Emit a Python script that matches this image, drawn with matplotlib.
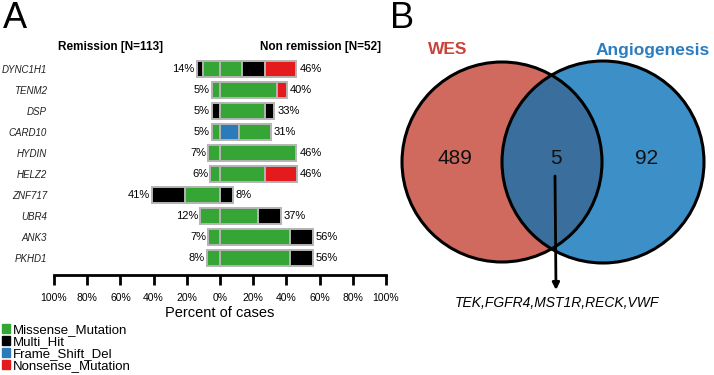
import numpy as np
import matplotlib
matplotlib.use('Agg')
import matplotlib.pyplot as plt
from matplotlib.patches import Circle, Patch

plt.rcParams['font.family'] = ['Liberation Sans', 'DejaVu Sans']

# panel A data (percent of cases)
genes = ['DYNC1H1', 'TENM2', 'DSP', 'CARD10', 'HYDIN', 'HELZ2', 'ZNF717', 'UBR4', 'ANK3', 'PKHD1']
# remission side (N=113)
rem_missense = [10, 5, 0, 5, 7, 6, 21, 12, 7, 8]
rem_multi = [4, 0, 5, 0, 0, 0, 20, 0, 0, 0]
# non remission side (N=52)
non_frameshift = [0, 0, 0, 11.5, 0, 0, 0, 0, 0, 0]
non_missense = [13.5, 34.6, 26.9, 19.2, 46, 26.9, 0, 23.1, 42.3, 42.3]
non_multi = [13.5, 0, 5.8, 0, 0, 0, 7.7, 13.5, 13.5, 13.5]
non_nonsense = [19, 5.8, 0, 0, 0, 19.2, 0, 0, 0, 0]

ticks = [-100, -80, -60, -40, -20, 0, 20, 40, 60, 80, 100]

# panel B data
venn_sets = ['WES', 'Angiogenesis']
venn_counts = [489, 5, 92]
shared_genes = ['TEK', 'FGFR4', 'MST1R', 'RECK', 'VWF']

c_miss = '#35a535'
c_multi = '#000000'
c_fs = '#2b7bba'
c_non = '#e41a1c'
edge = '#b4b4b4'

fig = plt.figure(figsize=(7.14, 3.75), dpi=100)

ax = fig.add_axes([54/714, 1-275/375, (386-54)/714, (275-57)/375])
y = np.arange(len(genes))
h = 0.72

# left side, stacked outwards from 0
left = np.zeros(len(genes))
for vals, col in [(rem_missense, c_miss), (rem_multi, c_multi)]:
    v = np.array(vals, dtype=float)
    ax.barh(y, -v, left=-left, height=h, color=col, edgecolor=edge, linewidth=1.4)
    left += v

right = np.zeros(len(genes))
for vals, col in [(non_frameshift, c_fs), (non_missense, c_miss), (non_multi, c_multi), (non_nonsense, c_non)]:
    v = np.array(vals, dtype=float)
    m = v > 0
    ax.barh(y[m], v[m], left=right[m], height=h, color=col, edgecolor=edge, linewidth=1.4)
    right += v

for i in range(len(genes)):
    ax.text(-left[i] - 1.2, y[i], '%d%%' % round(left[i]), ha='right', va='center', fontsize=8)
    ax.text(right[i] + 1.8, y[i], '%d%%' % round(right[i]), ha='left', va='center', fontsize=8)

ax.set_xlim(-100, 100)
ax.set_ylim(9.81, -0.57)
ax.set_xticks(ticks)
ax.set_xticklabels(['%d%%' % abs(t) for t in ticks])
ax.set_yticks(y)
ax.set_yticklabels(genes, fontstyle='italic', fontsize=7, color='#222222')
ax.tick_params(axis='y', length=0, pad=5)
ax.tick_params(axis='x', length=7, width=2, labelsize=7.5, pad=6)
for s in ['top', 'right', 'left']:
    ax.spines[s].set_visible(False)
ax.spines['bottom'].set_linewidth(2)
ax.set_xlabel('Percent of cases', fontsize=10.5, labelpad=2)
ax.patch.set_visible(False)

fig.text(110/714, 1-47/375, 'Remission [N=113]', ha='center', va='center', fontsize=8.5, fontweight='bold')
fig.text(320/714, 1-47/375, 'Non remission [N=52]', ha='center', va='center', fontsize=8.5, fontweight='bold')

handles = [Patch(color=c_miss), Patch(color=c_multi), Patch(color=c_fs), Patch(color=c_non)]
fig.legend(handles, ['Missense_Mutation', 'Multi_Hit', 'Frame_Shift_Del', 'Nonsense_Mutation'],
           loc='upper left', bbox_to_anchor=(0.003, 1-324/375), frameon=False, fontsize=9.5,
           handlelength=0.6, handleheight=0.6, handletextpad=0.2, labelspacing=0.0,
           borderpad=0, borderaxespad=0)

fig.text(3/714, 1-18/375, 'A', fontsize=26, va='center', ha='left')
fig.text(390/714, 1-18/375, 'B', fontsize=26, va='center', ha='left')

# panel B: venn
bx = fig.add_axes([390/714, 0, 324/714, 1])
bx.set_xlim(390, 714)
bx.set_ylim(375, 0)
bx.axis('off')

c1 = Circle((502, 162), 100, facecolor='#d06a5e', edgecolor='none')
c2 = Circle((603, 162), 101, facecolor='#3d8fc8', edgecolor='none')
bx.add_patch(c1)
bx.add_patch(c2)
lens = Circle((502, 162), 100, facecolor='#3a6f9d', edgecolor='none')
bx.add_patch(lens)
lens.set_clip_path(c2)
bx.add_patch(Circle((502, 162), 100, fill=False, edgecolor='black', linewidth=2.2))
bx.add_patch(Circle((603, 162), 101, fill=False, edgecolor='black', linewidth=2.2))

bx.text(448, 50, venn_sets[0], color='#c9433b', fontsize=12.5, fontweight='bold', ha='center', va='center')
bx.text(653, 50, venn_sets[1], color='#2b7dc0', fontsize=12.5, fontweight='bold', ha='center', va='center')
bx.text(455, 158, str(venn_counts[0]), fontsize=15, ha='center', va='center', color='#111111')
bx.text(556, 158, str(venn_counts[1]), fontsize=15, ha='center', va='center', color='#111111')
bx.text(647, 158, str(venn_counts[2]), fontsize=15, ha='center', va='center', color='#111111')

bx.annotate('', xy=(556, 290), xytext=(555, 176),
            arrowprops=dict(arrowstyle='-|>', lw=2, color='black', mutation_scale=10, shrinkA=0, shrinkB=0))
bx.text(557, 303, ','.join(shared_genes), fontsize=10, fontstyle='italic', ha='center', va='center')

fig.savefig('out.png', dpi=100)
